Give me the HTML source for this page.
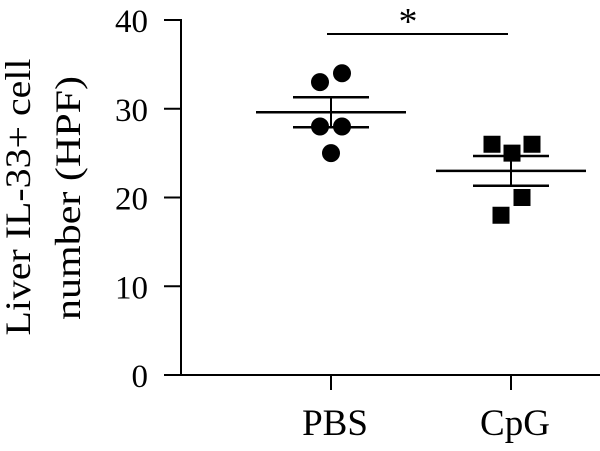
<!DOCTYPE html>
<html><head><meta charset="utf-8"><style>
body{margin:0;background:#fff}
svg text{font-family:"Liberation Serif",serif;fill:#000}
</style></head><body>
<svg width="600" height="446" viewBox="0 0 600 446">
<g id="g"></g>
<g>
<text transform="translate(30,197) rotate(-90)" text-anchor="middle" font-size="36" textLength="277" lengthAdjust="spacingAndGlyphs">Liver IL-33+ cell</text>
<text transform="translate(80,198) rotate(-90)" text-anchor="middle" font-size="36" textLength="244" lengthAdjust="spacingAndGlyphs">number (HPF)</text>
</g>
</svg>
<script>
const categories=["PBS","CpG"];
const pbsValues=[33,34,28,28,25];
const cpgValues=[26,26,25,20,18];
const yTicks=[0,10,20,30,40];
const NS="http://www.w3.org/2000/svg";
const g=document.getElementById('g');
const y=v=>375-v*8.875;
const xc=[331,511];
const jit=[-11,11,-11,11,0];
const jitC=[-19,21,1,11,-10];
function mk(t,a,name){const e=document.createElementNS(NS,t);for(const k in a)e.setAttribute(k,a[k]);


g.appendChild(e);return e;}
mk('line',{x1:181,y1:y(40)-1,x2:181,y2:375,stroke:'#000','stroke-width':2},'y-axis-line');
mk('line',{x1:180,y1:375,x2:600,y2:375,stroke:'#000','stroke-width':2},'x-axis-line');
yTicks.forEach(t=>{mk('line',{x1:164,y1:y(t),x2:181,y2:y(t),stroke:'#000','stroke-width':2},'y-tick');
const tx=mk('text',{x:148,y:y(t)+12,'text-anchor':'end','font-size':33},'y-tick-label');tx.textContent=t;});
categories.forEach((c,i)=>{mk('line',{x1:xc[i],y1:375,x2:xc[i],y2:390,stroke:'#000','stroke-width':2},'x-tick');
const tx=mk('text',{x:xc[i]+4,y:435,'text-anchor':'middle','font-size':37},'x-tick-label');tx.textContent=c;});
function stats(a){const m=a.reduce((s,v)=>s+v,0)/a.length;const sd=Math.sqrt(a.reduce((s,v)=>s+(v-m)*(v-m),0)/(a.length-1));return [m,sd/Math.sqrt(a.length)];}
[pbsValues,cpgValues].forEach((arr,i)=>{
const [m,se]=stats(arr);const x=xc[i];
arr.forEach((v,j)=>{
if(i==0)mk('circle',{cx:x+jit[j],cy:y(v),r:9,fill:'#000'},'pbs-point');
else mk('rect',{x:x+jitC[j]-8.5,y:y(v)-8.5,width:17,height:17,fill:'#000'},'cpg-point');});
mk('line',{x1:x-75,y1:y(m),x2:x+75,y2:y(m),stroke:'#000','stroke-width':2.5},'mean-line');
mk('line',{x1:x,y1:y(m+se),x2:x,y2:y(m-se),stroke:'#000','stroke-width':2},'sem-bar');
mk('line',{x1:x-38,y1:y(m+se),x2:x+38,y2:y(m+se),stroke:'#000','stroke-width':2.5},'sem-cap-top');
mk('line',{x1:x-38,y1:y(m-se),x2:x+38,y2:y(m-se),stroke:'#000','stroke-width':2.5},'sem-cap-bottom');
});
mk('line',{x1:327,y1:34,x2:508,y2:34,stroke:'#000','stroke-width':2},'significance-bar');
const st=mk('text',{x:408,y:34,'text-anchor':'middle','font-size':38},'significance-star');st.textContent='*';
</script>
</body></html>
